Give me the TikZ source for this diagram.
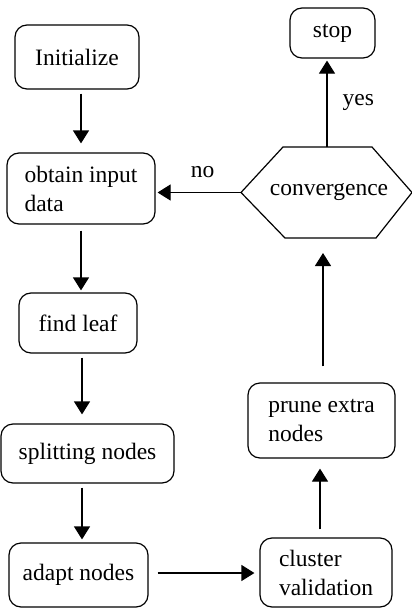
\documentclass[tikz,border=0pt]{standalone}
\usepackage{fontspec}
\setmainfont{Liberation Serif}
\usetikzlibrary{arrows.meta}
\begin{document}
\begin{tikzpicture}[x=1pt,y=-1pt,
  txt/.style={font=\fontsize{23.5}{29}\selectfont},
  box/.style={txt, draw, rounded corners=12pt, line width=1.2pt, inner sep=0pt, align=left},
  lbl/.style={txt, inner sep=0pt},
  arr/.style={line width=1.2pt, -{Triangle[length=13pt,width=16pt]}}]
\useasboundingbox[fill=white] (0,0) rectangle (412,610);

% process boxes
\node[box, minimum width=124pt, minimum height=64pt] (init)    at (77,57)      {Initialize};
\node[box, minimum width=148pt, minimum height=71pt] (obtain)  at (81,188.5)   {obtain input\\data};
\node[box, minimum width=118pt, minimum height=60pt] (find)    at (78,323)     {find leaf};
\node[box, minimum width=173pt, minimum height=59pt] (split)   at (87.5,453.5) {splitting nodes};
\node[box, minimum width=139pt, minimum height=64pt] (adapt)   at (78.5,575)   {adapt nodes};
\node[box, minimum width=132pt, minimum height=69pt] (cluster) at (326,572.5)  {cluster\\validation};
\node[box, minimum width=147pt, minimum height=75pt] (prune)   at (321.5,420.5){prune extra\\nodes};
\node[box, minimum width=85pt,  minimum height=50pt] (stop)    at (332.5,33)   {stop};

% decision hexagon
\coordinate (hL)  at (241,192.5);
\coordinate (hTL) at (283,147);
\coordinate (hTR) at (372,147);
\coordinate (hR)  at (412,192.5);
\coordinate (hBR) at (376,238);
\coordinate (hBL) at (285,238);
\draw[line width=1.2pt, line join=miter] (hL) -- (hTL) -- (hTR) -- (hR) -- (hBR) -- (hBL) -- cycle;
\node[txt, inner sep=0pt] (conv) at (329,192.5) {convergence};

% connector columns and rows
\coordinate (cA) at (81,0);
\coordinate (cB) at (82,0);
\coordinate (cC) at (320,0);
\coordinate (cD) at (323,0);
\coordinate (cE) at (327,0);
\coordinate (rA) at (0,573);

\draw[arr, shorten <=4pt, shorten >=9pt] (init.south -| cA) -- (obtain.north -| cA);
\draw[arr, shorten <=6pt, shorten >=2pt] (obtain.south -| cA) -- (find.north -| cA);
\draw[arr, shorten <=4pt, shorten >=9pt] (find.south -| cB) -- (split.north -| cB);
\draw[arr, shorten <=4pt, shorten >=3pt] (split.south -| cB) -- (adapt.north -| cB);
\draw[arr, shorten <=9pt, shorten >=5pt] (adapt.east |- rA) -- (cluster.west |- rA);
\draw[arr, shorten <=8pt, shorten >=10pt] (cluster.north -| cC) -- (prune.south -| cC);
\draw[arr, shorten <=16pt, shorten >=15pt] (prune.north -| cD) -- (hBL -| cD);
\draw[arr, shorten >=2pt] (hTL -| cE) -- (stop.south -| cE)
  node[lbl, pos=0.5, right=15pt] (yes) {yes};
\draw[arr, shorten >=2pt] (hL) -- (obtain.east |- hL)
  node[lbl, pos=0.45, above=14pt] (no) {no};
\end{tikzpicture}
\end{document}
